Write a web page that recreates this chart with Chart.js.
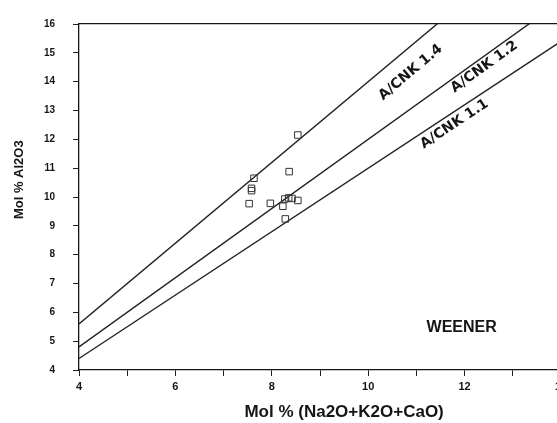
<!DOCTYPE html>
<html>
<head>
<meta charset="utf-8">
<script src="https://cdn.jsdelivr.net/npm/chart.js@4"></script>
<style>
html, body { margin: 0; padding: 0; background: #fff; overflow: hidden; }
</style>
</head>
<body>
<canvas id="myChart" width="600" height="423"></canvas>
<script>
// sample points, Mol % (Na2O+K2O+CaO) vs Mol % Al2O3
let sample_x = [8.54, 7.63, 7.58, 7.58, 8.36, 7.53, 7.97, 8.27, 8.23, 8.35, 8.42, 8.54, 8.28];
let sample_y = [12.15, 10.65, 10.30, 10.22, 10.88, 9.77, 9.78, 9.93, 9.68, 9.97, 9.95, 9.88, 9.24];

// reference lines A/CNK, end points at x = 4 and x = 14
let line_names = ["A/CNK 1.4", "A/CNK 1.2", "A/CNK 1.1"];
let line_x = [4, 14];
let line_y = [[5.6, 19.6], [4.8, 16.8], [4.4, 15.4]];

// where each line name sits (data units)
let name_x = [10.88, 12.41, 11.79];
let name_y = [14.32, 14.51, 12.53];

let x_min = 4, x_max = 14;
let y_min = 4, y_max = 16;

const ink = '#151515';

const labelPlugin = {
    id: 'labelPlugin',
    afterDatasetsDraw(chart) {
        const ctx = chart.ctx;
        const x = chart.scales.x;
        const y = chart.scales.y;
        const area = chart.chartArea;
        ctx.save();
        ctx.fillStyle = ink;
        ctx.textAlign = 'center';
        ctx.textBaseline = 'middle';
        ctx.font = 'bold 14px "DejaVu Sans"';
        for (let i = 0; i < line_names.length; i++) {
            let dx = x.getPixelForValue(line_x[1]) - x.getPixelForValue(line_x[0]);
            let dy = y.getPixelForValue(line_y[i][1]) - y.getPixelForValue(line_y[i][0]);
            ctx.save();
            ctx.translate(x.getPixelForValue(name_x[i]), y.getPixelForValue(name_y[i]));
            ctx.rotate(Math.atan2(dy, dx));
            ctx.fillText(line_names[i], 0, 0);
            ctx.restore();
        }
        ctx.font = 'bold 16px "Liberation Sans"';
        ctx.fillText('WEENER', x.getPixelForValue(11.94), y.getPixelForValue(5.46));
        // axis titles
        ctx.font = 'bold 17px "Liberation Sans"';
        ctx.fillText('Mol % (Na2O+K2O+CaO)', area.left + 0.55 * (area.right - area.left), 412);
        ctx.save();
        ctx.translate(19, area.top + 0.45 * (area.bottom - area.top));
        ctx.rotate(-Math.PI / 2);
        ctx.font = 'bold 13px "Liberation Sans"';
        ctx.fillText('Mol % Al2O3', 0, 0);
        ctx.restore();
        ctx.restore();
    }
};

let datasets = [{
    type: 'scatter',
    data: sample_x.map((v, i) => ({x: v, y: sample_y[i]})),
    pointStyle: 'rect',
    pointRadius: 4.6,
    borderColor: '#333',
    backgroundColor: 'rgba(0,0,0,0)',
    borderWidth: 1
}];

for (let i = 0; i < line_names.length; i++) {
    datasets.push({
        type: 'line',
        data: line_x.map((v, j) => ({x: v, y: line_y[i][j]})),
        borderColor: '#222',
        borderWidth: 1.4,
        pointRadius: 0,
        fill: false
    });
}

new Chart(document.getElementById('myChart'), {
    type: 'scatter',
    data: { datasets: datasets },
    options: {
        responsive: false,
        animation: false,
        layout: { padding: { left: 0, top: 16, right: 39, bottom: 0 } },
        plugins: { legend: { display: false }, tooltip: { enabled: false } },
        scales: {
            x: {
                type: 'linear',
                min: x_min, max: x_max,
                afterFit: s => { s.height = 53; },
                ticks: {
                    stepSize: 1,
                    autoSkip: false,
                    maxRotation: 0,
                    padding: 4,
                    color: ink,
                    font: { family: 'Liberation Sans', size: 11, weight: 'bold' },
                    callback: v => (v % 2 === 0 ? v : '')
                },
                grid: { drawOnChartArea: false, drawTicks: true, tickLength: 6, color: '#222' },
                border: { display: true, color: ink, width: 1.3 }
            },
            x2: {
                type: 'linear',
                position: 'top',
                afterFit: s => { s.height = 0; },
                ticks: { display: false },
                grid: { display: false },
                border: { display: true, color: ink, width: 1.3 }
            },
            y: {
                type: 'linear',
                min: y_min, max: y_max,
                afterFit: s => { s.width = 79; },
                ticks: {
                    stepSize: 1,
                    padding: 18,
                    color: ink,
                    font: { family: 'Liberation Sans', size: 10, weight: 'bold' }
                },
                grid: { drawOnChartArea: false, drawTicks: true, tickLength: 6, color: '#222' },
                border: { display: true, color: ink, width: 1.3 }
            }
        }
    },
    plugins: [labelPlugin]
});
</script>
</body>
</html>
